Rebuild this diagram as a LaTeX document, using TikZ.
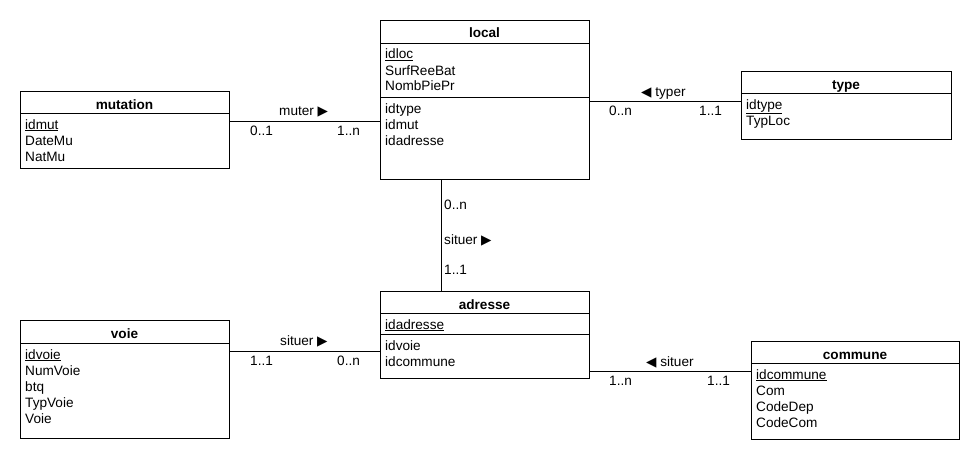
\documentclass[tikz,border=0pt]{standalone}
\usepackage{fontspec}
\setmainfont{Liberation Sans}
\newfontfamily\symfont{DejaVu Sans}
\newcommand\tri[1]{{\symfont\fontsize{13.5}{14}\selectfont #1}}
\begin{document}
\begin{tikzpicture}[x=1pt,y=-1pt,
  box/.style={draw=black,line width=0.9pt,inner sep=0pt,outer sep=0pt,anchor=north west,fill=white},
  sep/.style={draw=black,line width=0.9pt},
  conn/.style={draw=black,line width=0.9pt},
  ttl/.style={anchor=base,inner sep=0pt,font=\fontsize{13.6}{16}\selectfont\bfseries},
  attr/.style={anchor=base west,inner sep=0pt,font=\fontsize{13.6}{16}\selectfont},
  lbl/.style={anchor=base west,inner sep=0pt,font=\fontsize{13.6}{16}\selectfont}]
\useasboundingbox[fill=white] (0,0) rectangle (980,460);

% ---------- local ----------
\node[box,minimum width=209pt,minimum height=159pt] (local) at (380,20) {};
\draw[sep] ([yshift=-23pt]local.north west) -- ([yshift=-23pt]local.north east);
\draw[sep] ([yshift=-77pt]local.north west) -- ([yshift=-77pt]local.north east);
\node[ttl] (local-t) at (484.5,38) {local};
\node[attr] (local-a1) at (385,59) {\underline{idloc}};
\node[attr] (local-a2) at (385,75) {SurfReeBat};
\node[attr] (local-a3) at (385,91) {NombPiePr};
\node[attr] (local-a4) at (385,113) {idtype};
\node[attr] (local-a5) at (385,129) {idmut};
\node[attr] (local-a6) at (385,145) {idadresse};

% ---------- mutation ----------
\node[box,minimum width=209pt,minimum height=77pt] (mutation) at (20,91) {};
\draw[sep] ([yshift=-22pt]mutation.north west) -- ([yshift=-22pt]mutation.north east);
\node[ttl] (mutation-t) at (124.5,109) {mutation};
\node[attr] (mutation-a1) at (25,129) {\underline{idmut}};
\node[attr] (mutation-a2) at (25,145) {DateMu};
\node[attr] (mutation-a3) at (25,161) {NatMu};

% ---------- type ----------
\node[box,minimum width=210pt,minimum height=68pt] (type) at (741,71) {};
\draw[sep] ([yshift=-22pt]type.north west) -- ([yshift=-22pt]type.north east);
\node[ttl] (type-t) at (846,89) {type};
\node[attr] (type-a1) at (746,109) {\underline{idtype}};
\node[attr] (type-a2) at (746,125) {TypLoc};

% ---------- adresse ----------
\node[box,minimum width=209pt,minimum height=87pt] (adresse) at (380,291) {};
\draw[sep] ([yshift=-22pt]adresse.north west) -- ([yshift=-22pt]adresse.north east);
\draw[sep] ([yshift=-43pt]adresse.north west) -- ([yshift=-43pt]adresse.north east);
\node[ttl] (adresse-t) at (484.5,309) {adresse};
\node[attr] (adresse-a1) at (385,329) {\underline{idadresse}};
\node[attr] (adresse-a2) at (385,350) {idvoie};
\node[attr] (adresse-a3) at (385,366) {idcommune};

% ---------- voie ----------
\node[box,minimum width=209pt,minimum height=118pt] (voie) at (20,320) {};
\draw[sep] ([yshift=-23pt]voie.north west) -- ([yshift=-23pt]voie.north east);
\node[ttl] (voie-t) at (124.5,338) {voie};
\node[attr] (voie-a1) at (25,359) {\underline{idvoie}};
\node[attr] (voie-a2) at (25,375) {NumVoie};
\node[attr] (voie-a3) at (25,391) {btq};
\node[attr] (voie-a4) at (25,407) {TypVoie};
\node[attr] (voie-a5) at (25,423) {Voie};

% ---------- commune ----------
\node[box,minimum width=208pt,minimum height=98pt] (commune) at (751,341) {};
\draw[sep] ([yshift=-22pt]commune.north west) -- ([yshift=-22pt]commune.north east);
\node[ttl] (commune-t) at (855,359) {commune};
\node[attr] (commune-a1) at (756,379) {\underline{idcommune}};
\node[attr] (commune-a2) at (756,395) {Com};
\node[attr] (commune-a3) at (756,411) {CodeDep};
\node[attr] (commune-a4) at (756,427) {CodeCom};

% ---------- connectors ----------
\coordinate (ym) at (0,121);
\coordinate (yt) at (0,101);
\coordinate (xv) at (441,0);
\coordinate (yv) at (0,351);
\coordinate (yc) at (0,371);
\draw[conn] (mutation.east |- ym) -- (local.west |- ym);
\draw[conn] (local.east |- yt) -- (type.west |- yt);
\draw[conn] (local.south -| xv) -- (adresse.north -| xv);
\draw[conn] (voie.east |- yv) -- (adresse.west |- yv);
\draw[conn] (adresse.east |- yc) -- (commune.west |- yc);

% ---------- labels ----------
\node[lbl] (l-muter) at (279,115) {muter \tri{▶}};
\node[lbl] (l-muter-a) at (250,135) {0..1};
\node[lbl] (l-muter-b) at (337,135) {1..n};

\node[lbl] (l-typer) at (641,96) {\tri{◀} typer};
\node[lbl] (l-typer-a) at (609,115) {0..n};
\node[lbl] (l-typer-b) at (699,115) {1..1};

\node[lbl] (l-sv-a) at (444,209) {0..n};
\node[lbl] (l-sv) at (444,244) {situer \tri{▶}};
\node[lbl] (l-sv-b) at (444,274) {1..1};

\node[lbl] (l-voie) at (280,345) {situer \tri{▶}};
\node[lbl] (l-voie-a) at (250,365) {1..1};
\node[lbl] (l-voie-b) at (337,365) {0..n};

\node[lbl] (l-com) at (646,366) {\tri{◀} situer};
\node[lbl] (l-com-a) at (609,385) {1..n};
\node[lbl] (l-com-b) at (707,385) {1..1};
\end{tikzpicture}
\end{document}
